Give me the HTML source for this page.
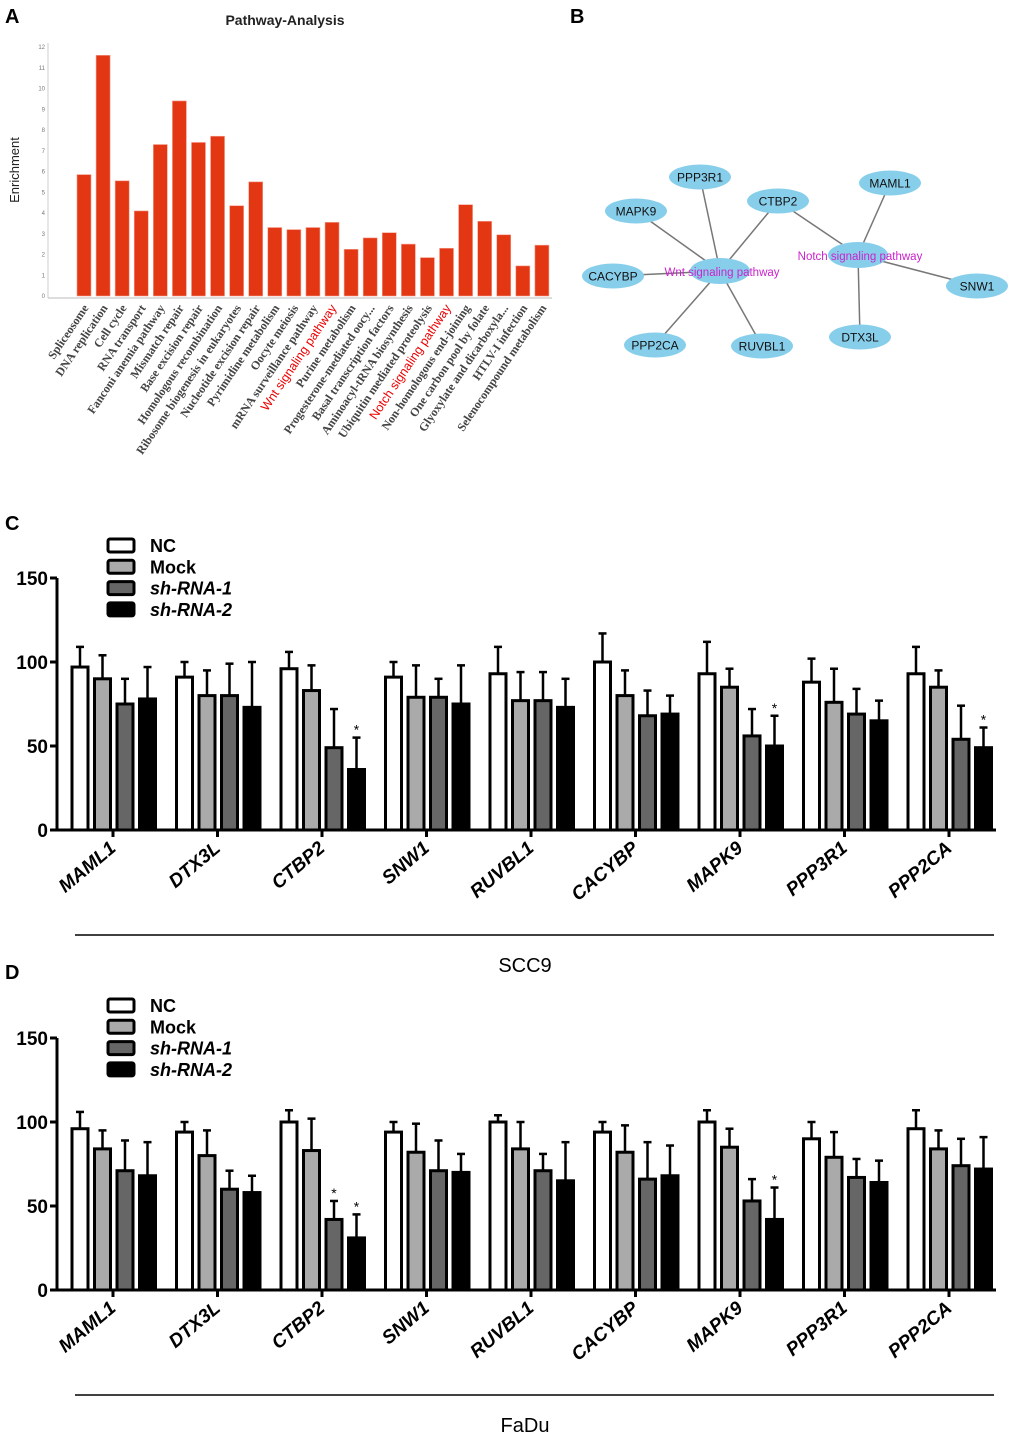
<!DOCTYPE html>
<html><head><meta charset="utf-8"><style>
body{margin:0;background:#fff;width:1020px;height:1440px;overflow:hidden}
svg{display:block}
</style></head><body>
<svg id="s" width="1020" height="1440" xmlns="http://www.w3.org/2000/svg" font-family="Liberation Sans, sans-serif">
<g font-weight="bold" font-size="20" fill="#000">
<text x="5" y="23">A</text>
<text x="570" y="23">B</text>
<text x="5" y="530">C</text>
<text x="5" y="979">D</text>
</g>
<g id="pa"></g>
<g id="pb"></g>
<g id="pc"></g>
<g id="pd"></g>
</svg>
<script>
const pathways=["Spliceosome","DNA replication","Cell cycle","RNA transport","Fanconi anemia pathway","Mismatch repair","Base excision repair","Homologous recombination","Ribosome biogenesis in eukaryotes","Nucleotide excision repair","Pyrimidine metabolism","Oocyte meiosis","mRNA surveillance pathway","Wnt signaling pathway","Purine metabolism","Progesterone-mediated oocy...","Basal transcription factors","Aminoacyl-tRNA biosynthesis","Ubiquitin mediated proteolysis","Notch signaling pathway","Non-homologous end-joining","One carbon pool by folate","Glyoxylate and dicarboxyla...","HTLV-I infection","Selenocompound metabolism"];
const enrichment=[5.85,11.6,5.55,4.1,7.3,9.4,7.4,7.7,4.35,5.5,3.3,3.2,3.3,3.55,2.25,2.8,3.05,2.5,1.85,2.3,4.4,3.6,2.95,1.45,2.45];
const enrichTicks=[0,1,2,3,4,5,6,7,8,9,10,11,12];
const genes=["MAML1","DTX3L","CTBP2","SNW1","RUVBL1","CACYBP","MAPK9","PPP3R1","PPP2CA"];
const groups=["NC","Mock","sh-RNA-1","sh-RNA-2"];
const valTicks=[0,50,100,150];
const scc9Mean=[[97,90,75,78],[91,80,80,73],[96,83,49,36],[91,79,79,75],[93,77,77,73],[100,80,68,69],[93,85,56,50],[88,76,69,65],[93,85,54,49]];
const scc9Err=[[12,14,15,19],[9,15,19,27],[10,15,23,19],[9,19,11,23],[16,17,17,17],[17,15,15,11],[19,11,16,18],[14,20,15,12],[16,10,20,12]];
const scc9Sig=[[0,0,0,0],[0,0,0,0],[0,0,0,1],[0,0,0,0],[0,0,0,0],[0,0,0,0],[0,0,0,1],[0,0,0,0],[0,0,0,1]];
const faduMean=[[96,84,71,68],[94,80,60,58],[100,83,42,31],[94,82,71,70],[100,84,71,65],[94,82,66,68],[100,85,53,42],[90,79,67,64],[96,84,74,72]];
const faduErr=[[10,11,18,20],[6,15,11,10],[7,19,11,14],[6,17,18,11],[4,16,10,23],[6,16,22,18],[7,11,13,19],[10,15,11,13],[11,11,16,19]];
const faduSig=[[0,0,0,0],[0,0,0,0],[0,0,1,1],[0,0,0,0],[0,0,0,0],[0,0,0,0],[0,0,0,1],[0,0,0,0],[0,0,0,0]];

const NS="http://www.w3.org/2000/svg";
function mk(p,t,a,txt){const e=document.createElementNS(NS,t);for(const k in a)e.setAttribute(k,a[k]);if(txt!=null)e.textContent=txt;p.appendChild(e);return e;}

// Panel A
(function(){
const g=document.getElementById('pa');
const y0=296,y12=47,x0=48,x1=552;
const ys=v=>y0-(y0-y12)*v/12;
const xs=i=>77+i*19.08;
let t=mk(g,'text',{x:285,y:25,'text-anchor':'middle','font-weight':'bold','font-size':14,fill:'#222'},'Pathway-Analysis');

t=mk(g,'text',{transform:'translate(19,170) rotate(-90)','text-anchor':'middle','font-size':13,fill:'#222'},'Enrichment');

let l=mk(g,'line',{x1:x0,y1:y0+2,x2:x1,y2:y0+2,stroke:'#bbb'});
l=mk(g,'line',{x1:x0,y1:y12-4,x2:x0,y2:y0+2,stroke:'#ccc'});
enrichTicks.forEach(v=>{const e=mk(g,'text',{x:x0-3,y:ys(v)+2,'text-anchor':'end','font-size':6,fill:'#777'},v);
});
enrichment.forEach((v,i)=>{
const r=mk(g,'rect',{x:xs(i),y:ys(v),width:14,height:y0-ys(v),fill:'#e33612',stroke:'#f5a090','stroke-width':0.6});


const red=/Wnt|Notch/.test(pathways[i]);
const tx=mk(g,'text',{transform:`translate(${xs(i)+12},${y0+12}) rotate(-56)`,'text-anchor':'end','font-size':red?12.5:12,'font-weight':red?'normal':'bold','font-family':red?'Liberation Sans, sans-serif':'Liberation Serif, serif',fill:red?'#e00':'#444'},pathways[i]);

});
})();

// Panel B
(function(){
const g=document.getElementById('pb');
const nodes={PPP3R1:[700,177],MAPK9:[636,211],CTBP2:[778,201],MAML1:[890,183],CACYBP:[613,276],SNW1:[977,286],DTX3L:[860,337],PPP2CA:[655,345],RUVBL1:[762,346]};
const wnt=[720,271],notch=[858,255];
["PPP3R1","MAPK9","CTBP2","CACYBP","PPP2CA","RUVBL1"].forEach(n=>{const l=mk(g,'line',{x1:wnt[0],y1:wnt[1],x2:nodes[n][0],y2:nodes[n][1],stroke:'#777','stroke-width':1.5});});
["CTBP2","MAML1","SNW1","DTX3L"].forEach(n=>{const l=mk(g,'line',{x1:notch[0],y1:notch[1],x2:nodes[n][0],y2:nodes[n][1],stroke:'#777','stroke-width':1.5});});
[[wnt,'Wnt signaling pathway','wnt-hub'],[notch,'Notch signaling pathway','notch-hub']].forEach(([p,s,nm])=>{
const e=mk(g,'ellipse',{cx:p[0],cy:p[1],rx:30,ry:13,fill:'#87ceeb'});
const t=mk(g,'text',{x:p[0]+2,y:p[1]+5,'text-anchor':'middle','font-size':11.5,fill:'#cc22cc'},s);});
for(const n in nodes){const p=nodes[n];
const e=mk(g,'ellipse',{cx:p[0],cy:p[1],rx:31,ry:12.5,fill:'#87ceeb'});
const t=mk(g,'text',{x:p[0],y:p[1]+4.5,'text-anchor':'middle','font-size':12,fill:'#111'},n);}
})();

// Panels C/D
function barChart(id,y0,means,errs,sigs,cell,legTop){
const g=document.getElementById(id);
const yTop=y0-252;
const ys=v=>y0-252*v/150;
const fills=['#fff','#aaa','#666','#000'];
fills.forEach((f,k)=>{
const r=mk(g,'rect',{x:108,y:legTop+k*21.3-6,width:26,height:13,rx:2,fill:f,stroke:'#000','stroke-width':3});

const t=mk(g,'text',{x:150,y:legTop+k*21.3+7,'font-size':18,'font-weight':'bold','font-style':k>1?'italic':'normal'},groups[k]);
});
let l=mk(g,'line',{x1:57,y1:yTop,x2:57,y2:y0+1.5,stroke:'#000','stroke-width':3});
l=mk(g,'line',{x1:55.5,y1:y0,x2:996,y2:y0,stroke:'#000','stroke-width':3});
valTicks.forEach(v=>{const tk=mk(g,'line',{x1:50,y1:ys(v),x2:57,y2:ys(v),stroke:'#000','stroke-width':3});
const t=mk(g,'text',{x:48,y:ys(v)+7,'text-anchor':'end','font-size':19,'font-weight':'bold'},v);});
genes.forEach((gn,i)=>{
const gx=72+i*104.5;
means[i].forEach((m,k)=>{
const bx=gx+k*22.5,bw=16,cx=bx+bw/2;
const e=mk(g,'line',{x1:cx,y1:ys(m),x2:cx,y2:ys(m+errs[i][k]),stroke:'#000','stroke-width':2.5});
const c=mk(g,'line',{x1:cx-4,y1:ys(m+errs[i][k]),x2:cx+4,y2:ys(m+errs[i][k]),stroke:'#000','stroke-width':2.5});
const r=mk(g,'rect',{x:bx,y:ys(m),width:bw,height:y0-ys(m),fill:fills[k],stroke:'#000','stroke-width':3});

if(sigs[i][k]){const s=mk(g,'text',{x:cx,y:ys(m+errs[i][k])-3,'text-anchor':'middle','font-size':14},'*');}
});
const tx=gx+41;
const tk=mk(g,'line',{x1:tx,y1:y0,x2:tx,y2:y0+7,stroke:'#000','stroke-width':3});
const t=mk(g,'text',{transform:`translate(${tx+4},${y0+20}) rotate(-40)`,'text-anchor':'end','font-size':19,'font-weight':'bold','font-style':'italic'},gn);

});
l=mk(g,'line',{x1:75,y1:y0+105,x2:994,y2:y0+105,stroke:'#000','stroke-width':1.5});
const t=mk(g,'text',{x:525,y:y0+142,'text-anchor':'middle','font-size':20},cell);
}
barChart('pc',830,scc9Mean,scc9Err,scc9Sig,'SCC9',545);
barChart('pd',1290,faduMean,faduErr,faduSig,'FaDu',1005);
</script>
</body></html>
